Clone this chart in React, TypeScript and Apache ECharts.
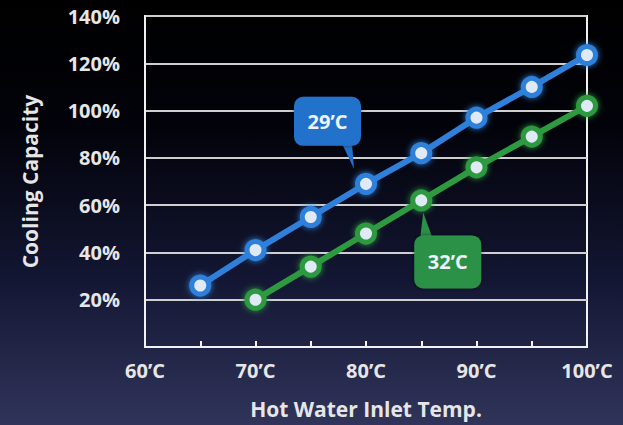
import React, { useEffect, useRef } from "react";
import * as echarts from "echarts";

const blueX = [65, 70, 75, 80, 85, 90, 95, 100];
const blueY = [26, 41, 55, 69, 82, 97, 110, 123.5];
const greenX = [70, 75, 80, 85, 90, 95, 100];
const greenY = [20, 34, 48, 62, 76, 89, 102];
const blueLabel = "29’C";
const greenLabel = "32’C";
const xTitle = "Hot Water Inlet Temp.";
const yTitle = "Cooling Capacity";

const BLUE = "#2f80da";
const GREEN = "#2e9a40";
const FONT = "'Open Sans', 'DejaVu Sans', sans-serif";

export default function App() {
  const ref = useRef<HTMLDivElement>(null);
  useEffect(() => {
    if (!ref.current) return;
    const chart = echarts.init(ref.current, null, { renderer: "svg" });
    const marker = (c: string) => ({
      color: "#dfeaf6",
      borderColor: c,
      borderWidth: 5,
      shadowBlur: 6,
      shadowColor: c,
    });
    chart.setOption({
      animation: false,
      backgroundColor: {
        type: "linear",
        x: 0, y: 0, x2: 0, y2: 1,
        colorStops: [
          { offset: 0, color: "#000000" },
          { offset: 0.3, color: "#02030a" },
          { offset: 0.65, color: "#131632" },
          { offset: 1, color: "#30345a" },
        ],
      },
      grid: {
        left: 145, right: 36, top: 16, bottom: 78,
        show: true, borderColor: "#f2f2f2", borderWidth: 2,
        backgroundColor: "transparent",
      },
      xAxis: {
        type: "value", min: 60, max: 100, interval: 5,
        name: xTitle, nameLocation: "middle", nameGap: 51,
        nameTextStyle: { color: "#e6e6e6", fontSize: 21, fontWeight: "bold", fontFamily: FONT },
        axisLine: { show: true, lineStyle: { color: "#f2f2f2", width: 2 } },
        axisTick: { show: true, inside: true, length: 6, lineStyle: { color: "#f2f2f2", width: 2 } },
        splitLine: { show: false },
        axisLabel: {
          color: "#e6e6e6", fontSize: 20, fontWeight: "bold", fontFamily: FONT, margin: 13,
          formatter: (v: number) => (v % 10 === 0 ? `${v}’C` : ""),
        },
      },
      yAxis: {
        type: "value", min: 0, max: 140, interval: 20,
        name: yTitle, nameLocation: "middle", nameGap: 105, nameRotate: 90,
        nameTextStyle: { color: "#e6e6e6", fontSize: 21, fontWeight: "bold", fontFamily: FONT },
        axisLine: { show: true, lineStyle: { color: "#f2f2f2", width: 2 } },
        axisTick: { show: false },
        splitLine: { show: true, lineStyle: { color: "#cfcfcf", width: 2 } },
        axisLabel: {
          color: "#e6e6e6", fontSize: 20, fontWeight: "bold", fontFamily: FONT, margin: 25,
          formatter: (v: number) => (v === 0 ? "" : `${v}%`),
        },
      },
      series: [
        {
          type: "line", name: blueLabel,
          data: blueX.map((x, i) => [x, blueY[i]]),
          symbol: "circle", symbolSize: 17,
          lineStyle: { color: BLUE, width: 6 },
          itemStyle: marker(BLUE), z: 3,
        },
        {
          type: "line", name: greenLabel,
          data: greenX.map((x, i) => [x, greenY[i]]),
          symbol: "circle", symbolSize: 17,
          lineStyle: { color: GREEN, width: 6 },
          itemStyle: marker(GREEN), z: 2,
        },
      ],
    });

    const bp = chart.convertToPixel({ gridIndex: 0 }, [blueX[3], blueY[3]]) as number[];
    const gp = chart.convertToPixel({ gridIndex: 0 }, [greenX[3], greenY[3]]) as number[];
    const bw = 67, bh = 49;
    const bL = bp[0] - 72, bT = bp[1] - 87;
    const gL = gp[0] - 7, gT = gp[1] + 35;
    const textStyle = { fill: "#eef4fb", fontSize: 20, fontFamily: FONT, fontWeight: "bold", align: "center", verticalAlign: "middle" };
    chart.setOption({
      graphic: [
        {
          type: "polygon", z: 100,
          shape: { points: [[bL + 48, bT + bh - 2], [bL + 58, bT + bh - 2], [bp[0] - 12, bp[1] - 15]] },
          style: { fill: "#2272cc" },
        },
        {
          type: "rect", z: 100,
          shape: { x: bL, y: bT, width: bw, height: bh, r: 9 },
          style: { fill: "#2272cc", shadowBlur: 4, shadowColor: "rgba(0,0,0,0.5)" },
        },
        { type: "text", z: 101, x: bL + bw / 2, y: bT + bh / 2, style: { ...textStyle, text: blueLabel } },
        {
          type: "polygon", z: 100,
          shape: { points: [[gL + 6, gT + 2], [gL + 18, gT + 2], [gp[0] + 2, gp[1] + 12]] },
          style: { fill: "#2a9147" },
        },
        {
          type: "rect", z: 100,
          shape: { x: gL, y: gT, width: bw, height: 53, r: 9 },
          style: { fill: "#2a9147", shadowBlur: 4, shadowColor: "rgba(0,0,0,0.5)" },
        },
        { type: "text", z: 101, x: gL + bw / 2, y: gT + 53 / 2, style: { ...textStyle, text: greenLabel } },
      ],
    });
    return () => chart.dispose();
  }, []);
  return (
    <div
      ref={ref}
      style={{ position: "fixed", left: 0, top: 0, width: 623, height: 425 }}
    />
  );
}
